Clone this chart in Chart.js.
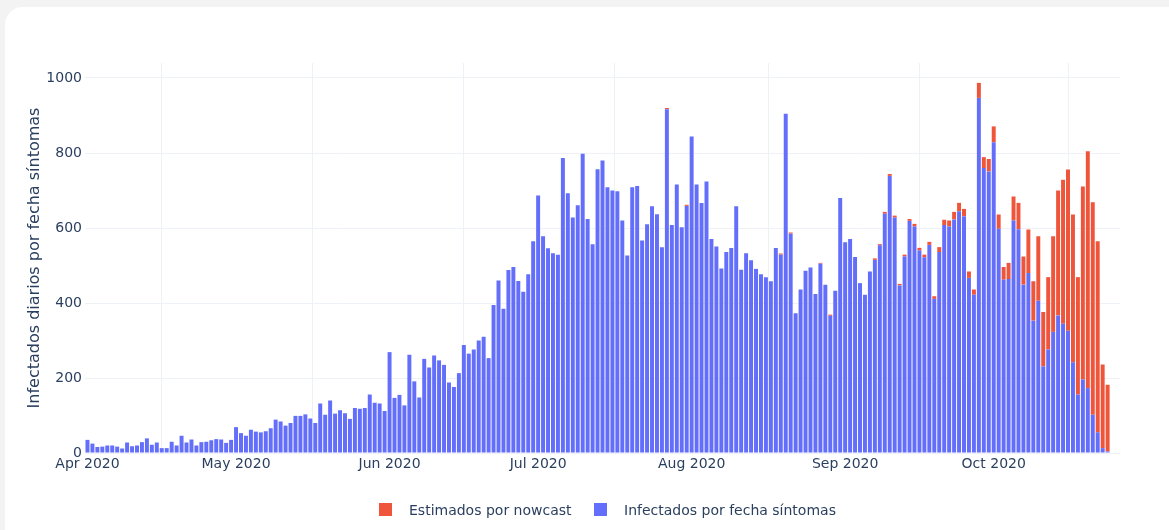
<!DOCTYPE html>
<html><head><meta charset="utf-8">
<script src="https://cdn.jsdelivr.net/npm/chart.js@4.4.0/dist/chart.umd.min.js"></script>
<style>
html,body{margin:0;padding:0;background:#f3f3f3;width:1169px;height:530px;overflow:hidden;font-family:"DejaVu Sans",sans-serif;}
#card{position:absolute;left:5px;top:7px;width:1200px;height:560px;background:#fff;border-radius:18px;}
#c{position:absolute;left:0;top:0;}
.leg{position:absolute;top:502px;font-size:14px;color:#2a3f5f;line-height:16px;white-space:nowrap;}
.sw{position:absolute;width:13px;height:13px;top:503px;}
</style></head><body>
<div id="card"></div>
<canvas id="c" width="1169" height="530"></canvas>
<div class="sw" style="left:379px;background:#EF553B"></div>
<div class="leg" style="left:409px">Estimados por nowcast</div>
<div class="sw" style="left:594px;background:#636EFA"></div>
<div class="leg" style="left:624px">Infectados por fecha síntomas</div>
<script>
// ---- data (daily values, 1 Apr 2020 .. 24 Oct 2020) ----
const infApr = [35,25,16,17,20,20,17,12,28,18,20,29,39,22,28,13,13,30,20,46,28,36,20,29,30,34,37,36,27,35];
const infMay = [69,53,46,62,57,55,58,66,89,84,73,80,99,99,103,92,80,132,102,140,105,114,106,91,120,118,120,156,134,132,112];
const infJun = [269,147,155,127,262,191,148,251,228,260,247,235,188,176,213,288,265,276,300,310,253,395,460,385,488,496,459,430,477,565];
const infJul = [687,578,546,533,529,787,693,628,661,798,624,557,757,780,709,700,698,620,527,709,712,567,610,658,637,549,917,608,716,602,659];
const infAug = [844,716,667,724,571,551,492,536,547,658,489,533,514,491,477,469,458,547,529,905,585,373,436,486,495,424,505,449,366,433,680];
const infSep = [562,571,523,453,422,484,515,554,638,739,628,447,524,619,604,540,522,555,411,536,608,604,623,645,631,467,422,947,760,751];
const infOct = [829,598,462,464,620,597,449,480,353,406,231,276,323,367,345,326,242,156,196,173,102,55,13,4];

const nowApr = [0,0,0,0,0,0,0,0,0,0,0,0,0,0,0,0,0,0,0,0,0,0,0,0,0,0,0,0,0,0];
const nowMay = [0,0,0,0,0,0,0,0,0,0,0,0,0,0,0,0,0,0,0,0,0,0,0,0,0,0,0,0,0,0,0];
const nowJun = [0,0,0,0,0,0,0,0,0,0,0,0,0,0,0,0,0,0,0,0,0,0,0,0,0,0,0,0,0,0];
const nowJul = [0,0,0,0,0,0,0,0,0,0,0,0,0,0,0,0,0,0,0,0,0,0,0,0,0,0,3,0,0,0,3];
const nowAug = [0,0,0,0,0,0,0,0,0,0,0,0,0,0,0,0,0,0,3,0,3,0,0,0,0,0,2,0,3,0,0];
const nowSep = [0,0,0,0,0,0,4,3,5,5,5,4,5,5,7,7,7,8,7,13,14,16,20,22,20,17,14,40,29,33];
const nowOct = [42,38,34,43,64,70,75,116,105,172,145,193,255,333,384,430,394,313,515,632,567,510,223,178];

const monthTickDays = [0,30,61,91,122,153,183];
const monthTickLabels = ['Apr 2020','May 2020','Jun 2020','Jul 2020','Aug 2020','Sep 2020','Oct 2020'];
const yTickValues = [0,200,400,600,800,1000];
const seriesNames = ['Infectados por fecha síntomas','Estimados por nowcast'];

// ---- build ----
const infected = [].concat(infApr,infMay,infJun,infJul,infAug,infSep,infOct);
const nowcast = [].concat(nowApr,nowMay,nowJun,nowJul,nowAug,nowSep,nowOct);
const toPts = arr => arr.map((v,i)=>({x:i,y:v}));

const GRID = '#eef1f6';
const TXT = '#2a3f5f';
const FONT = '"DejaVu Sans", sans-serif';

new Chart(document.getElementById('c'), {
  type: 'bar',
  data: {
    datasets: [
      {label: seriesNames[0], data: toPts(infected), backgroundColor: '#636EFA', borderWidth: 0,
       barPercentage: 0.8, categoryPercentage: 1.0},
      {label: seriesNames[1], data: toPts(nowcast), backgroundColor: '#EF553B', borderWidth: 0,
       barPercentage: 0.8, categoryPercentage: 1.0}
    ]
  },
  options: {
    responsive: false,
    animation: false,
    devicePixelRatio: 1,
    layout: {padding: {left: 0, right: 49, top: 63, bottom: 47}},
    plugins: {legend: {display: false}, tooltip: {enabled: false}},
    scales: {
      x: {
        type: 'linear', stacked: true, min: -0.5, max: 208.5, offset: false,
        grid: {color: GRID, drawTicks: false, lineWidth: 1},
        border: {display: false},
        afterBuildTicks: s => { s.ticks = monthTickDays.map(v => ({value: v})); },
        afterFit: s => { s.height = 30; },
        ticks: {
          autoSkip: false, maxRotation: 0, padding: 3, color: TXT,
          font: {family: FONT, size: 14},
          callback: v => monthTickLabels[monthTickDays.indexOf(v)]
        }
      },
      y: {
        stacked: true, min: 0, max: 1040,
        grid: {color: GRID, drawTicks: false, lineWidth: 1},
        border: {display: false},
        afterBuildTicks: s => { s.ticks = yTickValues.map(v => ({value: v})); },
        afterFit: s => { s.width = 85; },
        ticks: {padding: 3, color: TXT, font: {family: FONT, size: 14}, callback: v => String(v)},
        title: {display: true, text: 'Infectados diarios por fecha síntomas', color: TXT,
                font: {family: FONT, size: 16}, padding: {top: 25, bottom: 0}}
      }
    }
  }
});
</script>
</body></html>
